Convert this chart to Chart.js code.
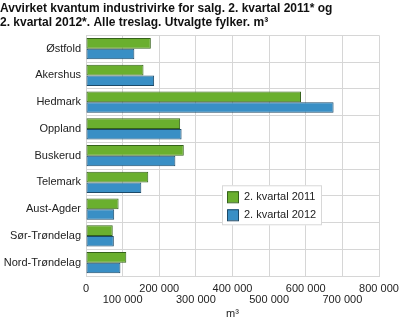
<!DOCTYPE html>
<html>
<head>
<meta charset="utf-8">
<script src="https://cdn.jsdelivr.net/npm/chart.js@4.4.0/dist/chart.umd.min.js"></script>
<style>
  html, body { margin: 0; padding: 0; background: #fff; }
  #wrap { width: 399px; height: 323px; }
</style>
</head>
<body>
<div id="wrap"><canvas id="fylker" width="399" height="323"></canvas></div>
<script>
const fylker = ['Østfold', 'Akershus', 'Hedmark', 'Oppland', 'Buskerud', 'Telemark', 'Aust-Agder', 'Sør-Trøndelag', 'Nord-Trøndelag'];
const kvartal2011 = [177000, 157000, 587000, 257000, 267000, 170000, 89000, 73000, 110000];
const kvartal2012 = [132000, 186000, 676000, 261000, 244000, 151000, 77000, 76000, 94000];
const serieNavn = ['2. kvartal 2011', '2. kvartal 2012'];
const xTicks = [0, 100000, 200000, 300000, 400000, 500000, 600000, 700000, 800000];

const FONT = 'Liberation Sans, Arial, sans-serif';
const gronn = '#6aaf2e', gronnKant = '#35621a';
const bla = '#398fc5', blaKant = '#1d4a68';

function tall(v) {
  return String(v).replace(/\B(?=(\d{3})+(?!\d))/g, ' ');
}

// legend box drawn inside the plot
const legendBoks = {
  id: 'legendBoks',
  afterDraw(chart) {
    const ctx = chart.ctx;
    const a = chart.chartArea;
    const x = a.left + 136, y = a.top + 150, w = 100, h = 40;
    ctx.save();
    ctx.fillStyle = '#fff';
    ctx.strokeStyle = '#d8d8d8';
    ctx.lineWidth = 1;
    ctx.fillRect(x, y, w, h);
    ctx.strokeRect(x + 0.5, y + 0.5, w - 1, h - 1);
    chart.data.datasets.forEach((ds, i) => {
      const sy = y + 6 + i * 18;
      ctx.fillStyle = ds.backgroundColor;
      ctx.fillRect(x + 5.5, sy, 11, 11);
      ctx.strokeStyle = ds.borderColor;
      ctx.strokeRect(x + 5.5, sy + 0.5, 11, 11);
      ctx.fillStyle = '#222';
      ctx.font = '11px ' + FONT;
      ctx.textBaseline = 'middle';
      ctx.fillText(ds.label, x + 22, sy + 6);
    });
    ctx.restore();
  }
};

new Chart(document.getElementById('fylker'), {
  type: 'bar',
  data: {
    labels: fylker,
    datasets: [{
      label: serieNavn[0],
      data: kvartal2011,
      backgroundColor: gronn,
      borderColor: gronnKant,
      borderWidth: 1,
      borderSkipped: false
    }, {
      label: serieNavn[1],
      data: kvartal2012,
      backgroundColor: bla,
      borderColor: blaKant,
      borderWidth: 1,
      borderSkipped: false
    }]
  },
  options: {
    indexAxis: 'y',
    responsive: false,
    animation: false,
    layout: { padding: { left: 0, right: 20, top: 0, bottom: 2 } },
    datasets: {
      bar: { categoryPercentage: 0.79, barPercentage: 1 }
    },
    scales: {
      x: {
        min: 0,
        max: 800000,
        afterBuildTicks(scale) {
          scale.ticks = xTicks.map(v => ({ value: v }));
        },
        afterFit(scale) {
          scale.height = 45;
          scale.paddingRight = 0;
          scale.paddingLeft = 0;
        },
        grid: { color: '#d6d6d6', lineWidth: 1, drawTicks: false },
        border: { color: '#d6d6d6' },
        ticks: {
          autoSkip: false,
          maxRotation: 0,
          padding: 7,
          color: '#222',
          font: { family: FONT, size: 11, lineHeight: 1.0 },
          callback(v, i) {
            return i % 2 === 0 ? [tall(v)] : ['', tall(v)];
          }
        },
        title: {
          display: true,
          text: 'm³',
          color: '#222',
          font: { family: FONT, size: 11 },
          padding: { top: 2, bottom: 0 }
        }
      },
      y: {
        afterFit(scale) { scale.width = 86; },
        grid: { color: '#d6d6d6', lineWidth: 1, drawTicks: false },
        border: { color: '#d6d6d6' },
        ticks: {
          padding: 5,
          color: '#222',
          font: { family: FONT, size: 11 }
        }
      }
    },
    plugins: {
      legend: { display: false },
      tooltip: { enabled: false },
      title: {
        display: true,
        align: 'start',
        text: ['Avvirket kvantum industrivirke for salg. 2. kvartal 2011* og',
               '2. kvartal 2012*. Alle treslag. Utvalgte fylker. m³'],
        color: '#111',
        font: { family: FONT, size: 12, weight: 'bold', lineHeight: 1.22 },
        padding: { top: 1, bottom: 5 }
      }
    }
  },
  plugins: [legendBoks]
});
</script>
</body>
</html>
